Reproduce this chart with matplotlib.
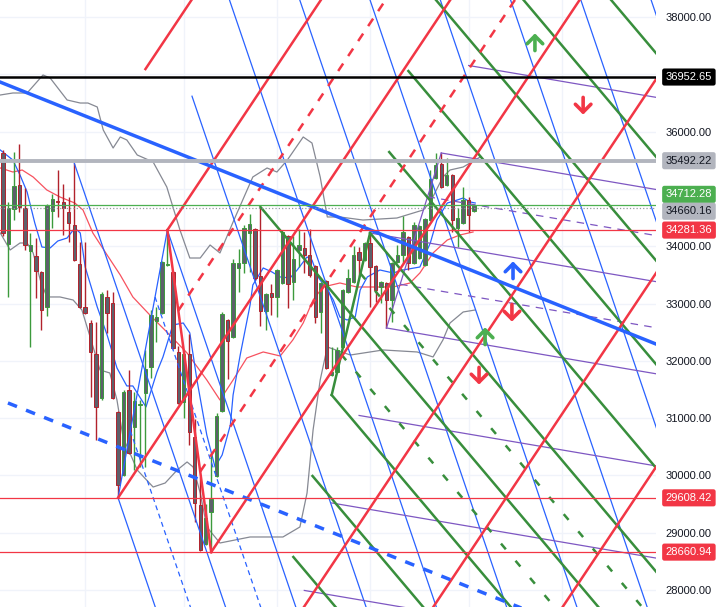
import numpy as np
import matplotlib.pyplot as plt
from matplotlib import transforms

plt.rcParams['font.family'] = ['Liberation Sans', 'DejaVu Sans']

# daily candles (bar index = position)
opens = [35630, 34040, 34650, 35070, 34670, 33920, 33830, 33550, 32940, 34610,
         34790, 34770, 34600, 34370, 33690, 32940, 32660, 32120, 31350, 33110,
         33010, 31110, 30010, 31490, 30850, 31220, 31440, 31890, 32700, 32830,
         33670, 33550, 32150, 31280, 32120, 30670, 29480, 28800, 29360, 29990,
         31120, 32710, 32420, 33620, 33710, 34230, 34300, 33480, 32870, 33180,
         33110, 33360, 34180, 33380, 33930, 33970, 33850, 33660, 32850, 33390,
         31750, 31810, 32240, 33200, 33380, 33900, 33760, 34060, 33660, 33290,
         33360, 33060, 33720, 33850, 34160, 33710, 33790, 33670, 34460, 35190,
         35440, 35070, 35240, 34320, 34400, 34810, 34620]
highs = [35680, 34770, 35640, 35780, 35020, 34230, 34140, 33570, 34740, 34910,
         35330, 35090, 34860, 35452, 34070, 34070, 32710, 32680, 33200, 33240,
         33200, 31120, 31490, 31840, 31460, 31320, 32190, 32890, 32940, 33740,
         34281.36, 33570, 32260, 32180, 32470, 30990, 29970, 29500, 30390, 31090,
         32850, 32730, 33780, 33950, 34370, 34560, 34320, 34684, 33180, 33340,
         33600, 34280, 34200, 34180, 34300, 34250, 34300, 33670, 33370, 33410,
         32240, 32240, 33250, 33600, 34000, 33990, 34070, 34230, 33670, 33390,
         33370, 33720, 34020, 34530, 34180, 34420, 34370, 34490, 35330, 35630,
         35627, 35540, 35260, 34670, 35030, 34860, 34740]
lows = [34180, 33110, 34460, 34600, 33930, 32240, 33100, 32540, 32780, 34320,
        34510, 34200, 34070, 33740, 32920, 32820, 31370, 30620, 31320, 32490,
        31330, 29608.42, 29990, 30370, 30090, 30150, 30150, 31700, 32330, 32810,
        33650, 32210, 31250, 31000, 30530, 29190, 28680, 28790, 28660.94, 29970,
        31100, 31680, 32390, 33200, 33530, 33550, 33410, 32610, 32540, 32800,
        32770, 33340, 32920, 33060, 33640, 33530, 33460, 32660, 32490, 31860,
        31740, 31790, 32230, 33190, 33360, 33460, 33740, 32940, 33030, 33010,
        32573, 32680, 33710, 33710, 33590, 33690, 33780, 33660, 34440, 35180,
        35020, 35050, 34250, 33990, 34390, 34250, 34600]
closes = [34230, 34670, 35050, 34680, 34020, 34020, 33570, 32890, 34720, 34820,
          34770, 34670, 34410, 33760, 32940, 32840, 32150, 31190, 33170, 32840,
          31350, 29830, 31460, 30390, 31300, 31250, 31860, 32800, 32770, 33720,
          33690, 32220, 31260, 32120, 30760, 29520, 28700, 29260, 29590, 31040,
          32820, 32350, 33710, 33710, 34320, 34390, 33450, 32870, 33170, 33110,
          33590, 34250, 33340, 33780, 34020, 33850, 33500, 32770, 33360, 31880,
          31810, 32190, 33240, 33450, 33850, 33760, 34060, 33640, 33240, 33380,
          33060, 33710, 33850, 34250, 33710, 34370, 34350, 34480, 35170, 35420,
          35030, 35240, 34460, 34490, 34810, 34550, 34712.28]

# indicator lines (bar index, price)
ma_fast_x = [-0.5, 1.8, 3.1, 4.4, 5.8, 7.1, 8.6, 10.0, 11.7, 13.1, 14.1, 15.0, 17.2, 19.0, 20.8,
             22.6, 23.7, 26.1, 28.1, 29.2, 31.0, 32.9, 34.1, 35.4, 37.2, 38.7, 40.0, 41.5, 42.0,
             43.3, 45.1, 45.6, 47.5, 49.1, 50.6, 52.4, 53.7, 55.5, 56.4, 57.5, 59.2, 60.3, 61.5,
             62.8, 64.3, 65.2, 66.5, 68.8, 71.2, 73.0, 76.1, 78.0, 79.2, 81.1, 82.9, 84.0, 85.3, 86.2]
ma_fast_y = [35679, 35504, 35243, 34946, 34405, 33986, 33969, 34091, 34143, 34318, 34231, 33637,
             32939, 32451, 31875, 31561, 31561, 31194, 31805, 32067, 32625, 32660, 32486, 31665,
             30705, 30147, 30356, 30880, 31404, 32102, 32974, 33323, 33620, 33550, 33463, 33446,
             33585, 33812, 33759, 33463, 33236, 33061, 32765, 32712, 32765, 33236, 33463, 33585,
             33533, 33585, 33637, 34056, 34457, 34754, 34806, 34841, 34772, 34754]
ma_slow_x = [-0.5, 1.8, 3.5, 5.5, 8.0, 10.4, 13.1, 14.6, 16.4, 19.0, 21.4, 23.7, 26.8, 29.9, 33.6,
             37.2, 39.6, 42.0, 44.5, 47.5, 50.6, 52.9, 54.8, 56.6, 58.4, 61.5, 64.6, 71.2, 74.3,
             76.1, 78.5, 81.1, 83.4, 85.8]
ma_slow_y = [35365, 35295, 35330, 35208, 34981, 34859, 34754, 34632, 34231, 33847, 33498, 33114,
             32800, 32503, 32136, 31665, 31316, 31665, 32049, 32154, 32084, 32363, 32660, 33061,
             33288, 33358, 33288, 33288, 33358, 33533, 33882, 34108, 34196, 34248]
band_up_x = [-0.5, 1.8, 4.4, 7.3, 8.6, 11.7, 14.1, 15.5, 17.2, 18.3, 20.1, 21.4, 22.6, 24.5, 27.4,
             29.9, 32.3, 34.1, 36.0, 37.8, 39.6, 42.0, 45.6, 48.2, 50.0, 51.9, 54.8, 56.4, 57.9,
             59.2, 61.5, 65.7, 71.9, 76.7, 78.0, 80.3, 81.6, 84.0, 87.1]
band_up_y = [36639, 36674, 36674, 36988, 36936, 36552, 36499, 36499, 36430, 36028, 35714, 35906,
             35854, 35592, 35470, 35033, 34283, 33794, 33794, 34021, 33882, 34423, 35208, 35365,
             35295, 35504, 35906, 35801, 35208, 34510, 34510, 34457, 34492, 34632, 34772, 35208,
             35330, 35382, 35557]
band_lo_x = [-0.5, 1.3, 3.1, 4.4, 5.5, 6.8, 8.0, 10.4, 12.8, 14.4, 15.9, 17.7, 19.5, 20.8, 21.9,
             24.5, 27.4, 29.6, 31.8, 33.6, 34.7, 36.0, 37.2, 39.6, 45.1, 51.1, 54.2, 55.5, 56.6,
             57.9, 59.2, 63.4, 69.4, 75.6, 78.5, 80.3, 81.6, 84.0, 86.2]
band_lo_y = [34231, 33934, 34056, 34056, 33882, 33411, 33114, 33114, 33061, 32887, 32416, 31840,
             31787, 31316, 30670, 30094, 29797, 29867, 30094, 30234, 30147, 29693, 29100, 28820,
             28925, 28925, 29100, 29693, 30792, 31665, 32241, 32101, 32189, 32154, 32067, 32363,
             32660, 32852, 32887]

# pitchfork anchors (bar index, price)
red_fork = [(21, 29608.42), (30, 34281.36), (38, 28660.94)]
blue_fork = [(13, 35452), (21, 29608.42), (30, 34281.36)]
green_fork = [(47, 34684), (60, 31403), (67, 34230)]
purple_fork = [(67, 34230), (70, 32573), (80, 35627)]

trend_line = [(-1, 36883), (120, 32262)]
trend_channel = [(0.9, 31264), (120, 26716)]

levels = [36952.65, 35492.22, 34712.28, 34660.16, 34281.36, 29608.42, 28660.94]
level_labels = ['36952.65', '35492.22', '34712.28', '34660.16', '34281.36', '29608.42', '28660.94']
# where each label box sits on the scale (two are nudged apart)
label_pos = [36952.65, 35492.22, 34905, 34610, 34281.36, 29608.42, 28660.94]

arrow_x = [97.1, 105.9, 93.1, 92.9, 88.0, 86.9]
arrow_y = [37564, 36447, 33585, 32834, 32433, 31735]
arrow_up = [True, False, True, False, True, False]
arrow_col = ['#4caf50', '#f23645', '#2962ff', '#f23645', '#4caf50', '#f23645']

grid_x = [15, 33, 50, 67, 85, 102]
grid_y = list(range(28000, 38001, 1000))
# 35000 and 37000 sit under label boxes on the scale
price_ticks = [28000, 29000, 30000, 31000, 32000, 33000, 34000, 36000, 38000]

XMIN, XMAX = -0.55, 119.2
fig = plt.figure(figsize=(7.23, 6.07), dpi=100)
ax = fig.add_axes([0, 0, 656 / 723, 1])
ax.set_xlim(XMIN, XMAX)
ax.set_ylim(27703, 38297)
for s in ax.spines.values():
    s.set_visible(False)

for g in grid_x:
    ax.axvline(g, color='#f0f3fa', lw=1, zorder=0)
for t in grid_y:
    ax.axhline(t, color='#f0f3fa', lw=1, zorder=0)

ax.set_xticks([])
ax.set_yticks(price_ticks)
ax.set_yticklabels(['%.2f' % t for t in price_ticks])
ax.yaxis.tick_right()
ax.tick_params(axis='y', length=0, pad=7, labelsize=8, labelcolor='#131722')

# indicators
ax.plot(band_up_x, band_up_y, color='#868993', lw=0.9, zorder=1)
ax.plot(band_lo_x, band_lo_y, color='#868993', lw=0.9, zorder=1)
ax.plot(ma_slow_x, ma_slow_y, color='#f7525f', lw=0.9, zorder=1)
ax.plot(ma_fast_x, ma_fast_y, color='#2962ff', lw=0.9, zorder=1)

# candles
o = np.array(opens); h = np.array(highs); l = np.array(lows); c = np.array(closes)
idx = np.arange(len(o))
edge = np.where(c >= o, '#3c9a3c', '#b2222c')
ax.vlines(idx, l, h, colors=edge, lw=1, zorder=2)
ax.bar(idx, np.maximum(np.abs(c - o), 20), bottom=np.minimum(o, c), width=0.62,
       color='#5d606b', edgecolor=edge, linewidth=0.7, zorder=3)


def draw_fork(pts, solid, dashed, color, lw, dash):
    a, b, cc = (np.array(p, float) for p in pts)
    m = (b + cc) / 2
    d = m - a
    u = cc - m
    ax.plot([b[0], cc[0]], [b[1], cc[1]], color=color, lw=lw, zorder=4)
    for lv in solid + dashed:
        s = a if lv == 0 else m + lv * u
        e = s + (XMAX + 5 - s[0]) / d[0] * d
        line, = ax.plot([s[0], e[0]], [s[1], e[1]], color=color, lw=lw, zorder=4)
        if lv in dashed:
            line.set_dashes(dash)


draw_fork(blue_fork, [-1, 0, 1, 2, 3, 4, 5, 6, 7, 8, 9], [-0.5, 0.5], '#2962ff', 0.9, (4, 3))
draw_fork(purple_fork, [-4, -3, -2, -1, 0, 1, 2], [-0.5, 0.5], '#7e57c2', 0.9, (6, 5))
draw_fork(green_fork, [-3, -2, -1, 0, 1, 2, 3, 4, 5, 6], [-0.5, 0.5], '#388e3c', 1.8, (3, 6))
draw_fork(red_fork, [-2, -1, 0, 1, 2, 3, 4], [-0.5, 0.5], '#f23645', 1.8, (3.6, 3.6))

ax.plot(*zip(*trend_line), color='#2962ff', lw=2.5, zorder=4)
ax.plot(*zip(*trend_channel), color='#2962ff', lw=2.5, dashes=(2.8, 2.8), zorder=4)

# horizontal levels
ax.axhline(levels[0], color='#000000', lw=1.8, zorder=5)
ax.axhline(levels[1], color='#b2b5be', lw=2.8, zorder=5)
ax.axhline(levels[2], color='#4caf50', lw=0.9, zorder=5)
ax.axhline(levels[3], color='#9598a1', lw=0.9, ls=':', zorder=5)
for v in levels[4:]:
    ax.axhline(v, color='#f23645', lw=0.9, zorder=5)

for x, y, up, col in zip(arrow_x, arrow_y, arrow_up, arrow_col):
    y0, y1 = (y - 150, y + 150) if up else (y + 150, y - 150)
    ax.annotate('', xy=(x, y1), xytext=(x, y0), zorder=6,
                arrowprops=dict(arrowstyle='->,head_length=0.4,head_width=0.4',
                                color=col, lw=2.6, mutation_scale=14,
                                shrinkA=0, shrinkB=0))

# price labels on the scale
box_bg = ['#000000', '#b2b5be', '#4caf50', '#b2b5be', '#f23645', '#f23645', '#f23645']
box_fg = ['white', '#131722', 'white', '#131722', 'white', 'white', 'white']
tr = transforms.blended_transform_factory(ax.transAxes, ax.transData)
for v, txt, bg, fg in zip(label_pos, level_labels, box_bg, box_fg):
    ax.text(1.0148, v, txt, transform=tr, ha='left', va='center', fontsize=8,
            color=fg, zorder=10, clip_on=False,
            bbox=dict(boxstyle='round,pad=0.32,rounding_size=0.2', fc=bg, ec='none'))

fig.savefig('out.png', dpi=100)
